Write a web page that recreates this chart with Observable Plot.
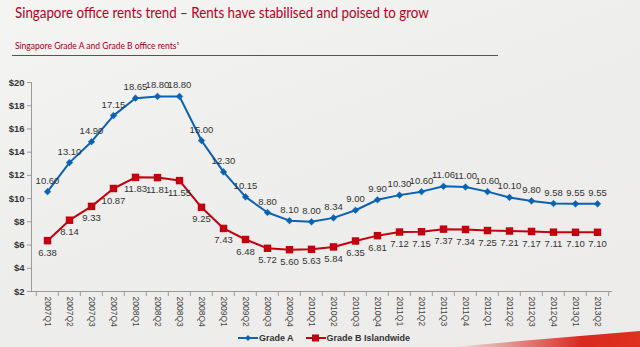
<!DOCTYPE html>
<html>
<head>
<meta charset="utf-8">
<script src="https://cdn.jsdelivr.net/npm/d3@7"></script>
<script src="https://cdn.jsdelivr.net/npm/@observablehq/plot@0.6"></script>
<style>
  html, body { margin: 0; padding: 0; }
  body {
    width: 640px; height: 347px; overflow: hidden; position: relative;
    background: linear-gradient(160deg, #f4f4f3 0%, #eeeeec 45%, #ecebea 100%);
    font-family: Lato, "Open Sans", sans-serif;
  }
  #title {
    height: 26px; line-height: 26px; padding-left: 15px;
    font-size: 14.5px; color: #b5001c; white-space: nowrap;
  }
  #title span { display: inline-block; transform: scaleX(0.92); transform-origin: 0 50%; }
  #subtitle {
    margin-left: 12px; width: 486px; height: 14px; padding-top: 15px;
    border-bottom: 1px solid #555; box-sizing: content-box;
  }
  #subtitle span {
    display: block; padding-left: 3px; font-size: 8.5px; line-height: 10px;
    color: #9a0018; white-space: nowrap;
  }
  #chart { margin-top: 4px; height: 268px; }
  #legend {
    height: 19px; display: flex; justify-content: center; align-items: center;
    font-family: "Liberation Sans", Arial, sans-serif; font-size: 9px; font-weight: bold; color: #333;
    position: relative; z-index: 2; padding-left: 8px;
  }
  #legend .item { display: flex; align-items: center; margin: 0 6px; }
  #legend svg { margin-right: 1px; }
  #swoosh {
    position: absolute; right: 0; bottom: 0; width: 190px; height: 16px;
    background: linear-gradient(90deg, rgba(200,20,20,0) 0%, #d9281e 70%, #e0301f 100%);
    clip-path: polygon(0% 100%, 100% 0%, 100% 100%);
  }
</style>
</head>
<body>
<div id="title"><span>Singapore office rents trend – Rents have stabilised and poised to grow</span></div>
<div id="subtitle"><span>Singapore Grade A and Grade B office rents¹</span></div>
<div id="chart"></div>
<div id="legend"></div>
<div id="swoosh"></div>
<script>
const quarters = ["2007Q1","2007Q2","2007Q3","2007Q4","2008Q1","2008Q2","2008Q3","2008Q4",
  "2009Q1","2009Q2","2009Q3","2009Q4","2010Q1","2010Q2","2010Q3","2010Q4",
  "2011Q1","2011Q2","2011Q3","2011Q4","2012Q1","2012Q2","2012Q3","2012Q4","2013Q1","2013Q2"];
const gradeA = [10.60,13.10,14.90,17.15,18.65,18.80,18.80,15.00,12.30,10.15,8.80,8.10,8.00,
  8.34,9.00,9.90,10.30,10.60,11.06,11.00,10.60,10.10,9.80,9.58,9.55,9.55];
const gradeB = [6.38,8.14,9.33,10.87,11.83,11.81,11.55,9.25,7.43,6.48,5.72,5.60,5.63,
  5.84,6.35,6.81,7.12,7.15,7.37,7.34,7.25,7.21,7.17,7.11,7.10,7.10];
const seriesNames = ["Grade A", "Grade B Islandwide"];
const yTicks = [2,4,6,8,10,12,14,16,18,20];

const blue = "#0b62b3", red = "#c2000f";
const data = quarters.map((q, i) => ({q, a: gradeA[i], b: gradeB[i]}));

const W = 640, ML = 31, MR = 28;
const step = (W - ML - MR) / quarters.length;

const chart = Plot.plot({
  width: W, height: 268,
  marginLeft: ML, marginRight: MR, marginTop: 22, marginBottom: 37,
  style: {fontFamily: "'Liberation Sans', Arial, sans-serif", background: "transparent", overflow: "visible"},
  x: {type: "band", domain: quarters, padding: 0, label: null},
  y: {domain: [2, 20], label: null},
  marks: [
    Plot.ruleY([2], {stroke: "#9a9a9a"}),
    Plot.frame({anchor: "left", stroke: "#9a9a9a"}),
    Plot.axisY({ticks: yTicks, tickFormat: d => "$" + d, tickSize: 4, tickPadding: 3,
      fontSize: 9.5, fontWeight: "bold", color: "#333", stroke: "#9a9a9a"}),
    Plot.axisX({tickSize: 0, tickRotate: 90, tickPadding: 5, fontSize: 8.5, color: "#444"}),
    Plot.axisX({tickSize: 5, tickFormat: () => "", dx: -step / 2, stroke: "#9a9a9a"}),
    Plot.axisX([quarters[quarters.length - 1]], {tickSize: 5, tickFormat: () => "", dx: step / 2, stroke: "#9a9a9a"}),
    Plot.line(data, {x: "q", y: "a", stroke: blue, strokeWidth: 2}),
    Plot.dot(data, {x: "q", y: "a", symbol: "diamond2", r: 3, fill: blue, stroke: blue, strokeWidth: 0.5}),
    Plot.line(data, {x: "q", y: "b", stroke: red, strokeWidth: 2}),
    Plot.dot(data, {x: "q", y: "b", symbol: "square", r: 4.2, fill: red}),
    Plot.text(data, {x: "q", y: "a", text: d => d.a.toFixed(2), dy: -11, fontSize: 9.5, fill: "#333"}),
    Plot.text(data, {x: "q", y: "b", text: d => d.b.toFixed(2), dy: 12, fontSize: 9.5, fill: "#333"})
  ]
});
document.getElementById("chart").appendChild(chart);

const legend = document.getElementById("legend");
const glyphs = [
  `<svg width="20" height="10"><line x1="0" y1="5" x2="20" y2="5" stroke="${blue}" stroke-width="2"/><path d="M10,2 L13,5 L10,8 L7,5 Z" fill="${blue}"/></svg>`,
  `<svg width="20" height="10"><line x1="0" y1="5" x2="20" y2="5" stroke="${red}" stroke-width="2"/><rect x="6" y="1.5" width="7" height="7" fill="${red}"/></svg>`
];
seriesNames.forEach((name, i) => {
  const el = document.createElement("span");
  el.className = "item";
  el.innerHTML = glyphs[i] + `<span>${name}</span>`;
  legend.appendChild(el);
});
</script>
</body>
</html>
